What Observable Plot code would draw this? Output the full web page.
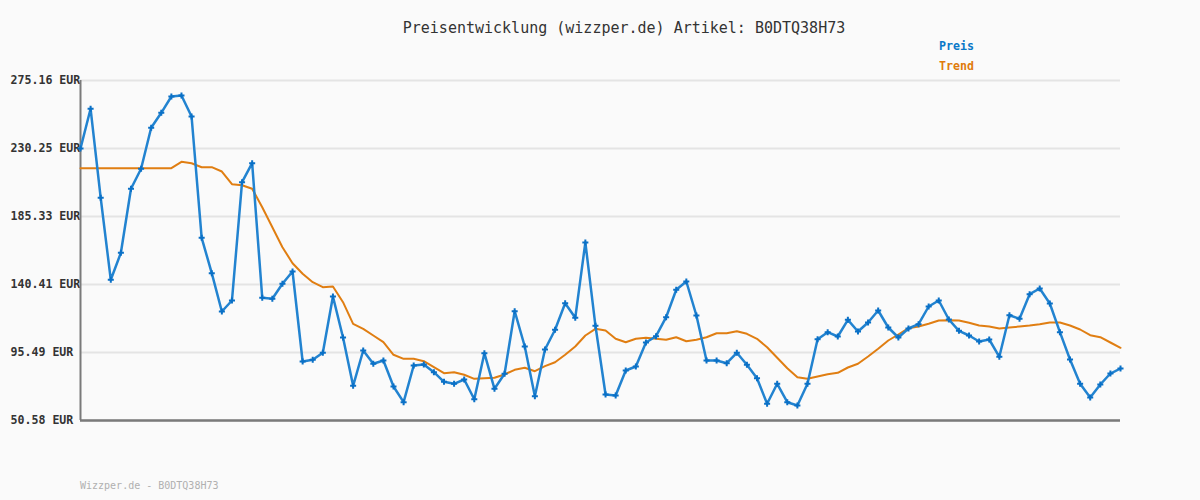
<!DOCTYPE html>
<html>
<head>
<meta charset="utf-8">
<script src="https://cdn.jsdelivr.net/npm/d3@7"></script>
<script src="https://cdn.jsdelivr.net/npm/@observablehq/plot@0.6"></script>
<style>
  html, body { margin: 0; padding: 0; background: #fafafa; }
  #wrap { position: relative; width: 1200px; height: 500px; overflow: hidden; }
  .t { position: absolute; font-family: "DejaVu Sans Mono", monospace; white-space: nowrap; }
  #title { left: 0; width: 1248px; text-align: center; top: 19px; font-size: 15px; color: #333; }
  #lp { left: 939px; top: 39px; font-size: 11.6px; font-weight: bold; color: #0a78c8; }
  #lt { left: 939px; top: 59px; font-size: 11.6px; font-weight: bold; color: #e07b0a; }
  #foot { left: 80px; top: 480px; font-size: 10px; color: #b0b0b0; }
  svg { position: absolute; left: 0; top: 0; }
</style>
</head>
<body>
<div id="wrap">
  <div class="t" id="title">Preisentwicklung (wizzper.de) Artikel: B0DTQ38H73</div>
  <div class="t" id="lp">Preis</div>
  <div class="t" id="lt">Trend</div>
  <div class="t" id="foot">Wizzper.de - B0DTQ38H73</div>
</div>
<script>
const yTicks = [50.58, 95.49, 140.41, 185.33, 230.25, 275.16];

const preis = [
  230.25, 256.47, 197.68, 143.52, 161.35, 203.63, 216.84, 243.92, 253.83, 264.59,
  265.25, 251.38, 171.26, 147.88, 122.58, 129.84, 207.98, 220.53, 131.63, 130.97,
  140.87, 149.00, 89.55, 90.67, 95.30, 132.49, 105.41, 73.50, 96.82, 88.03,
  90.21, 73.04, 62.67, 86.91, 87.57, 82.48, 76.14, 74.82, 77.66, 64.65,
  95.03, 71.52, 81.43, 122.78, 99.46, 66.63, 97.48, 110.49, 128.06, 118.42,
  168.16, 113.13, 67.75, 67.09, 83.61, 86.25, 102.10, 106.26, 118.81, 136.91,
  142.39, 119.94, 90.21, 90.21, 88.43, 95.30, 87.37, 78.52, 61.61, 74.82,
  62.67, 60.49, 74.82, 104.28, 108.90, 106.06, 117.09, 109.37, 115.31, 123.24,
  112.01, 105.41, 111.35, 114.19, 125.88, 129.84, 117.29, 109.83, 106.73, 102.76,
  104.08, 92.66, 120.13, 117.76, 134.01, 137.77, 127.86, 108.90, 90.87, 74.82,
  65.77, 74.36, 81.62, 84.93
];

const trend = [
  217.23, 217.23, 217.23, 217.23, 217.23, 217.23, 217.23, 217.23, 217.23, 217.23,
  221.46, 220.53, 217.89, 217.89, 215.05, 206.66, 206.00, 203.63, 191.47, 178.26,
  165.05, 154.48, 147.48, 141.93, 138.63, 139.09, 128.72, 114.45, 111.15, 106.73,
  102.30, 93.98, 91.33, 91.33, 89.75, 85.79, 81.82, 82.48, 80.77, 78.12,
  78.52, 78.78, 80.96, 84.07, 85.39, 83.14, 86.45, 89.09, 93.98, 99.46,
  106.73, 111.15, 110.03, 104.54, 102.30, 104.54, 105.21, 104.54, 103.88, 105.60,
  102.96, 103.88, 105.60, 108.24, 108.24, 109.57, 107.85, 104.54, 99.00, 92.00,
  85.13, 79.18, 78.12, 79.64, 81.16, 82.09, 85.59, 88.03, 92.85, 97.94,
  103.42, 107.39, 111.55, 112.67, 114.45, 116.63, 116.83, 116.63, 115.11, 113.33,
  112.67, 111.35, 112.01, 112.67, 113.33, 114.19, 115.31, 115.31, 113.33, 110.69,
  106.92, 105.60, 102.10, 98.60
];

const preisData = preis.map((v, i) => ({i, v}));
const trendData = trend.map((v, i) => ({i, v}));

const chart = Plot.plot({
  width: 1200,
  height: 500,
  marginLeft: 80,
  marginRight: 80,
  marginTop: 80,
  marginBottom: 80,
  style: {background: "transparent", fontFamily: "DejaVu Sans Mono, monospace"},
  x: {domain: [0, preis.length - 1], axis: null},
  y: {domain: [50.58, 275.16], ticks: yTicks, label: null},
  marks: [
    Plot.gridY(yTicks, {stroke: "#e4e4e4", strokeOpacity: 1, strokeWidth: 2}),
    Plot.axisY(yTicks, {
      tickSize: 0, tickPadding: 70, textAnchor: "start", label: null,
      tickFormat: d => d.toFixed(2) + " EUR",
      fontSize: 11.6, fontWeight: "bold", fill: "#333"
    }),
    Plot.ruleX([0], {y1: 50.58, y2: 275.16, stroke: "#7a7a7a", strokeWidth: 2}),
    Plot.ruleY([50.58], {x1: 0, x2: preis.length - 1, stroke: "#7a7a7a", strokeWidth: 2.5}),
    Plot.line(trendData, {x: "i", y: "v", stroke: "#e07e12", strokeWidth: 2}),
    Plot.line(preisData, {x: "i", y: "v", stroke: "#2283d0", strokeWidth: 2.5}),
    Plot.dot(preisData, {x: "i", y: "v", symbol: "plus", r: 2.1, stroke: "#0a70c6", strokeWidth: 2})
  ]
});
document.getElementById("wrap").appendChild(chart);
</script>
</body>
</html>
